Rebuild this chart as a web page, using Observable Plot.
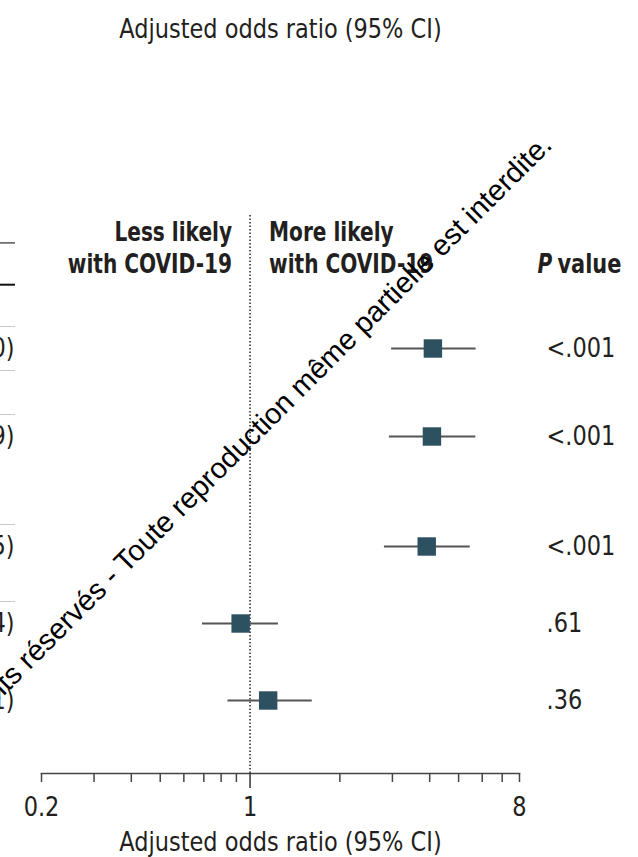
<!DOCTYPE html>
<html><head><meta charset="utf-8">
<script src="https://cdn.jsdelivr.net/npm/d3@7"></script>
<script src="https://cdn.jsdelivr.net/npm/@observablehq/plot@0.6"></script>
<style>
html,body{margin:0;padding:0;background:#fff;overflow:hidden}
svg{display:block}
</style>
</head><body><div id="chart"></div>
<script>
// ---- data ----
const rowLine   = [0, 4, 9, 12.5, 16];            // vertical slot of each row (table text lines)
const oddsRatio = [4.10, 4.07, 3.91, 0.93, 1.15];
const ciLower   = [2.97, 2.92, 2.81, 0.69, 0.84];
const ciUpper   = [5.70, 5.69, 5.45, 1.24, 1.61];
const pValues   = ["<.001", "<.001", "<.001", ".61", ".36"];
const axisTicks = [0.2, 0.3, 0.4, 0.5, 0.6, 0.7, 0.8, 0.9, 1, 2, 3, 4, 5, 6, 7, 8];
const axisLabels = [0.2, 1, 8];
const axisTitle = "Adjusted odds ratio (95% CI)";
const favorLeft  = ["Less likely", "with COVID-19"];
const favorRight = ["More likely", "with COVID-19"];
const watermark = "Droits réservés - Toute reproduction même partielle est interdite.";

// ---- layout (in table-line units) ----
const headerBaselines = [-4.9, -3.45];
const headerRules = [-4.8, -2.9];
const refTop = -6.05;
const yBottom = 425 / 22;

const rows = rowLine.map((y, i) => ({
  y, or: oddsRatio[i], lo: ciLower[i], hi: ciUpper[i], p: pValues[i],
  ci: `${oddsRatio[i].toFixed(2)} (${ciLower[i].toFixed(2)}-${ciUpper[i].toFixed(2)})`
}));
const separators = [...rowLine.slice(0, 4).map(v => v - 1), rowLine[0] + 1];

const condensed = "'DejaVu Sans Condensed','Liberation Sans Narrow',Roboto,sans-serif";
const ink = "#231f20";
const fs = 27, fsb = 26;

const chart = Plot.plot({
  width: 638, height: 857,
  marginLeft: 41, marginRight: 119, marginTop: 0, marginBottom: 84,
  x: {type: "log", domain: [0.2, 8], axis: null},
  y: {domain: [-348 / 22, yBottom], reverse: true, axis: null},
  style: {fontFamily: condensed, fontStretch: "condensed", background: "#fff", color: ink, overflow: "hidden"},
  marks: [
    // left table fragments
    Plot.ruleY([headerRules[0]], {stroke: "#555", strokeWidth: 1.5, insetLeft: -41, insetRight: 504}),
    Plot.ruleY([headerRules[1]], {stroke: "#111", strokeWidth: 2, insetLeft: -41, insetRight: 504}),
    Plot.ruleY(separators, {stroke: "#c9c9c9", strokeWidth: 1, insetLeft: -41, insetRight: 504}),
    Plot.text(rows, {y: "y", text: "ci", frameAnchor: "left", dx: -27, textAnchor: "end", fontSize: fs, fill: ink}),
    // reference line
    Plot.ruleX([1], {y1: refTop, y2: yBottom, stroke: "#222", strokeWidth: 1.5, strokeDasharray: "1.5,2"}),
    // CI and points
    Plot.link(rows, {x1: "lo", x2: "hi", y1: "y", y2: "y", stroke: "#555", strokeWidth: 2}),
    Plot.dot(rows, {x: "or", y: "y", symbol: "square", r: 10.4, fill: "#2d5160", stroke: "none"}),
    // favor headers
    Plot.text(favorLeft, {x: () => 1, y: (d, i) => headerBaselines[i], text: d => d, textAnchor: "end", lineAnchor: "bottom", dx: -18, fontWeight: "bold", fontSize: fsb, fill: ink}),
    Plot.text(favorRight, {x: () => 1, y: (d, i) => headerBaselines[i], text: d => d, textAnchor: "start", lineAnchor: "bottom", dx: 19, fontWeight: "bold", fontSize: fsb, fill: ink}),
    Plot.text(["P"], {y: () => headerBaselines[1], frameAnchor: "right", dx: 18, textAnchor: "start", lineAnchor: "bottom", fontWeight: "bold", fontStyle: "italic", fontSize: fsb, fill: ink}),
    Plot.text(["value"], {y: () => headerBaselines[1], frameAnchor: "right", dx: 38, textAnchor: "start", lineAnchor: "bottom", fontWeight: "bold", fontSize: fsb + 1, fill: ink}),
    // p values
    Plot.text(rows, {y: "y", text: "p", frameAnchor: "right", dx: 27, textAnchor: "start", fontSize: fs, fill: ink}),
    // axis
    Plot.frame({anchor: "bottom", stroke: "#444", strokeWidth: 1.5}),
    Plot.axisX(axisTicks.filter(d => d !== 1), {anchor: "bottom", tickSize: 9, strokeWidth: 1.5, stroke: "#444", tickFormat: () => "", label: null}),
    Plot.axisX([1], {anchor: "bottom", tickSize: 15, strokeWidth: 1.5, stroke: "#333", tickFormat: () => "", label: null}),
    Plot.text(axisLabels, {x: d => d, text: d => String(d), frameAnchor: "bottom", dy: 42, lineAnchor: "bottom", fontSize: fs, fill: ink}),
    Plot.text([axisTitle], {frameAnchor: "bottom", dy: 77, lineAnchor: "bottom", fontSize: fs, fill: ink}),
    Plot.text([axisTitle], {frameAnchor: "top", dy: 37, lineAnchor: "bottom", fontSize: fs, fill: ink}),
    // watermark
    Plot.text([watermark], {frameAnchor: "top-right", dx: 34, dy: 146, rotate: -45, textAnchor: "end", lineAnchor: "bottom",
      fontFamily: "'Liberation Sans',Arial,sans-serif", fontStretch: "normal", fontSize: 29, fill: "#000"})
  ]
});
document.getElementById("chart").append(chart);

// condense the humanist text to the narrow proportions of the original typeface
chart.querySelectorAll("text").forEach(t => {
  if (t.textContent === watermark || !t.textContent) return;
  const bold = parseInt(getComputedStyle(t).fontWeight, 10) >= 600;
  const w = t.getComputedTextLength();
  t.setAttribute("textLength", (w * (bold ? 0.86 : 0.925)).toFixed(2));
  t.setAttribute("lengthAdjust", "spacingAndGlyphs");
});
</script>
</body></html>
